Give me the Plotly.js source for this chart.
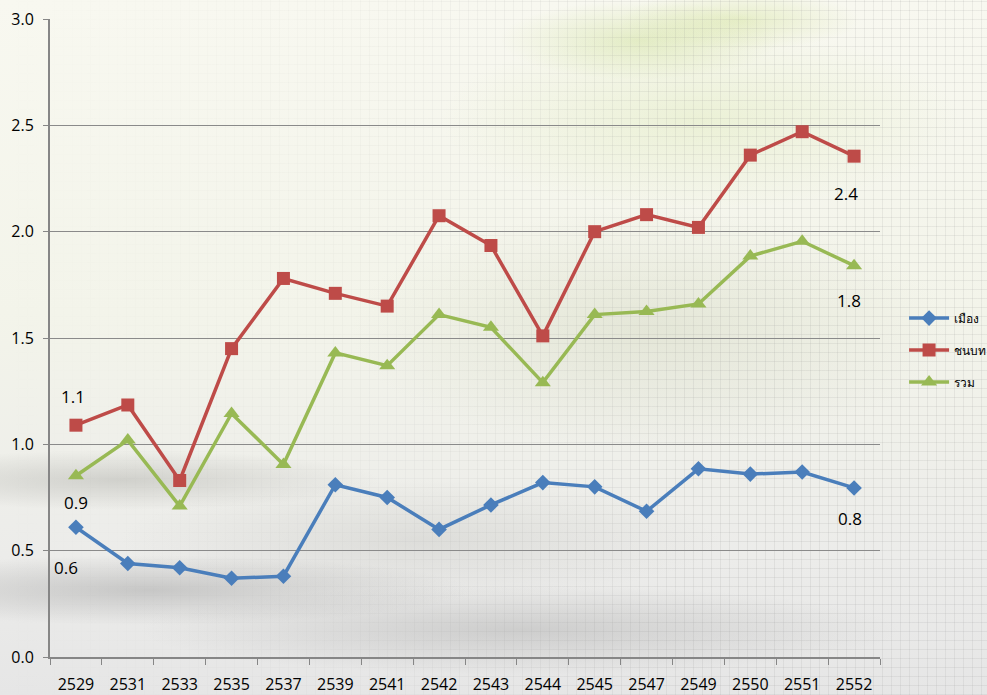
<!DOCTYPE html>
<html>
<head>
<meta charset="utf-8">
<script src="https://cdn.plot.ly/plotly-3.0.1.min.js"></script>
<style>
  html, body { margin:0; padding:0; width:987px; height:695px; overflow:hidden; }
  #bg { position:absolute; left:0; top:0; width:987px; height:695px;
    background:
      radial-gradient(ellipse 140px 40px at 640px 40px, rgba(190,215,120,0.35), transparent 100%),
      radial-gradient(ellipse 120px 30px at 740px 20px, rgba(200,220,130,0.35), transparent 100%),
      radial-gradient(ellipse 260px 90px at 700px 120px, rgba(215,230,170,0.35), transparent 100%),
      radial-gradient(ellipse 300px 120px at 650px 330px, rgba(200,205,180,0.35), transparent 100%),
      radial-gradient(ellipse 260px 30px at 120px 480px, rgba(160,160,155,0.38), transparent 100%),
      radial-gradient(ellipse 320px 35px at 150px 590px, rgba(150,150,150,0.42), transparent 100%),
      radial-gradient(ellipse 380px 45px at 520px 630px, rgba(160,160,160,0.38), transparent 100%),
      radial-gradient(ellipse 300px 60px at 420px 540px, rgba(185,185,180,0.30), transparent 100%),
      linear-gradient(180deg, #f8f8f0 0%, #f3f4ea 45%, #ececea 80%, #e6e6e6 100%);
  }
  #grid { position:absolute; left:0; top:0; width:987px; height:695px;
    background:
      repeating-linear-gradient(0deg, rgba(140,140,140,0.13) 0 1px, transparent 1px 9px),
      repeating-linear-gradient(90deg, rgba(140,140,140,0.13) 0 1px, transparent 1px 9px);
    -webkit-mask-image: linear-gradient(90deg, transparent 0%, rgba(0,0,0,0.3) 35%, #000 70%);
    mask-image: linear-gradient(90deg, transparent 0%, rgba(0,0,0,0.3) 35%, #000 70%);
  }
  #chart { position:absolute; left:0; top:0; width:987px; height:695px; }
</style>
</head>
<body>
<div id="bg"></div>
<div id="grid"></div>
<div id="chart"></div>
<script>
const years = ['2529','2531','2533','2535','2537','2539','2541','2542','2543','2544','2545','2547','2549','2550','2551','2552'];
const seriesNames = ['เมือง','ชนบท','รวม'];
const urban = [0.61,0.44,0.42,0.37,0.38,0.81,0.75,0.60,0.715,0.82,0.80,0.685,0.885,0.86,0.87,0.795];
const rural = [1.09,1.185,0.83,1.45,1.78,1.71,1.65,2.075,1.935,1.51,2.0,2.08,2.02,2.36,2.47,2.355];
const total = [0.852,1.02,0.71,1.145,0.905,1.43,1.37,1.61,1.55,1.29,1.61,1.625,1.66,1.885,1.955,1.84];

const colors = ['#4A7EBB','#BE4B48','#98B954'];
const symbols = ['diamond','square','triangle-up'];
const sizes = [12,13,14];
const data = [urban, rural, total];
const idx = years.map((_,i)=>i);
const boundaries = years.map((_,i)=>i-0.5).concat([years.length-0.5]);

const traces = data.map((v,i)=>({
  type:'scatter', mode:'lines+markers', name:seriesNames[i], legendgroup:'g'+i,
  x: idx, y: v,
  line:{color:colors[i], width:3.5},
  marker:{symbol:symbols[i], size:sizes[i], color:colors[i]}
}));

const fmt = v => (Math.round(v*10)/10).toFixed(1);
const labelShifts = [
  {first:[-10,-40], last:[-4,-31]},
  {first:[-3,29], last:[-8,-37]},
  {first:[0,-27], last:[-5,-35]}
];
const lblFont = {size:17, color:'#000', family:'Open Sans, Liberation Sans, sans-serif'};
const annotations = [];
data.forEach((v,i)=>{
  const n = v.length;
  annotations.push({x:idx[0], y:v[0], xref:'x', yref:'y', text:fmt(v[0]), showarrow:false,
    xshift:labelShifts[i].first[0], yshift:labelShifts[i].first[1], font:lblFont});
  annotations.push({x:idx[n-1], y:v[n-1], xref:'x', yref:'y', text:fmt(v[n-1]), showarrow:false,
    xshift:labelShifts[i].last[0], yshift:labelShifts[i].last[1], font:lblFont});
});

const layout = {
  width:987, height:695,
  margin:{l:50, r:107, t:19, b:38, autoexpand:false},
  paper_bgcolor:'rgba(0,0,0,0)',
  plot_bgcolor:'rgba(0,0,0,0)',
  font:{family:'Open Sans, Liberation Sans, sans-serif', size:16, color:'#000'},
  showlegend:true,
  legend:{x:1.029, y:0.481, xanchor:'left', yanchor:'middle', bgcolor:'rgba(0,0,0,0)',
    traceorder:'grouped', tracegroupgap:13,
    font:{size:12, family:'Noto Sans, DejaVu Sans, sans-serif'}, itemwidth:40},
  xaxis:{type:'linear', range:[-0.5, years.length-0.5], tickmode:'array', tickvals:idx, ticktext:years,
    showline:true, linecolor:'#868686', linewidth:2, ticks:'', showgrid:false, zeroline:false,
    tickfont:{size:16}, tickangle:0, fixedrange:true, ticklabelstandoff:12, automargin:false,
    minor:{tickmode:'array', tickvals:boundaries, ticks:'outside', ticklen:6, tickcolor:'#868686', tickwidth:1, showgrid:false}},
  yaxis:{range:[0,3], dtick:0.5, tickformat:'.1f', showline:true, linecolor:'#868686', linewidth:2,
    ticks:'outside', ticklen:5, tickcolor:'#868686', showgrid:true, gridcolor:'#8a8a8a', gridwidth:1,
    zeroline:false, tickfont:{size:16}, fixedrange:true, ticklabelstandoff:6, automargin:false},
  annotations: annotations
};
Plotly.newPlot('chart', traces, layout, {displayModeBar:false, staticPlot:true});
</script>
</body>
</html>
